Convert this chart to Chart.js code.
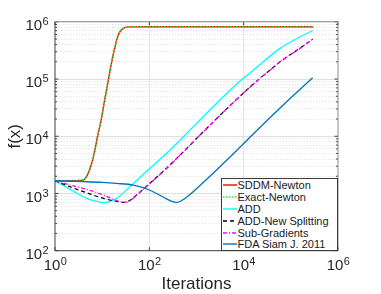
<!DOCTYPE html>
<html><head><meta charset="utf-8">
<script src="https://cdn.jsdelivr.net/npm/chart.js@4"></script>
<style>
html,body{margin:0;padding:0;background:#fff;}
#wrap{position:relative;width:381px;height:294px;}
canvas{display:block;}
#legend{position:absolute;left:221px;top:178px;width:117px;height:73px;box-sizing:border-box;border:1px solid #3a3a3a;background:#fff;font:11px "Liberation Sans",Arial,sans-serif;color:#1a1a1a;padding-top:0px;}
.row{height:11.9px;white-space:nowrap;display:flex;align-items:center;}
.row svg{margin-left:0.5px;margin-right:1px;flex:none;}
</style></head>
<body>
<div id="wrap"><canvas id="c" width="381" height="294"></canvas><div id="legend"></div></div>
<script>
// ---- data ----
const SERIES_NAMES = ['SDDM-Newton','Exact-Newton','ADD','ADD-New Splitting','Sub-Gradients','FDA Siam J. 2011'];

const newtonIter = [1, 2, 3, 4, 5, 6, 7, 8, 9.5, 11, 13.5, 17, 22, 30, 40, 60, 1000, 1e4, 1e5, 3e5];
const newtonF    = [1670, 1670, 1680, 1720, 2200, 3370, 5740, 10000, 19000, 38000, 96000, 2.6e5, 5.9e5, 7.9e5, 8.15e5, 8.2e5, 8.2e5, 8.2e5, 8.2e5, 8.2e5];

const addIter = [1, 2.08, 4.68, 8, 11.5, 15, 20.3, 45.7, 103, 274, 728, 1186, 3700, 8350, 16000, 59000, 156000, 290000];
const addF    = [1670, 1180, 822, 718, 690, 738, 822, 1500, 2750, 5740, 12800, 19200, 49000, 92000, 143000, 343000, 547000, 697000];

const addNewIter = [1, 2.08, 4.68, 10.6, 18.7, 28, 38, 54, 103, 233, 617, 1186, 8350, 22200, 36100, 59000, 156000, 290000];
const addNewF    = [1670, 1310, 1030, 822, 738, 700, 750, 945, 1510, 2780, 6100, 10500, 50000, 103000, 143000, 200000, 345000, 500000];

const subGradIter = [1, 2.08, 4.68, 10.6, 18.7, 25, 30.5, 38, 54, 103, 233, 617, 1186, 8350, 22200, 36100, 59000, 156000, 290000];
const subGradF    = [1670, 1405, 1180, 940, 769, 715, 700, 740, 940, 1500, 2750, 6100, 10500, 50000, 103000, 143000, 200000, 343000, 500000];

const fdaIter = [1, 4, 10, 20, 46, 100, 200, 300, 380, 470, 617, 1010, 1645, 5130, 21000, 69000, 290000];
const fdaF    = [1670, 1610, 1560, 1500, 1400, 1150, 860, 730, 700, 740, 860, 1220, 1766, 4340, 13700, 35200, 105000];

const X_TICKS = [1, 1e2, 1e4, 1e6];
const X_TICK_EXP = ['0', '2', '4', '6'];
const Y_TICKS = [1e2, 1e3, 1e4, 1e5, 1e6];
const Y_TICK_EXP = ['2', '3', '4', '5', '6'];
const TICK_BASE = '10';
const MINOR_MULTS = [2, 3, 4, 5, 6, 7, 8, 9];
const Y_MINOR = [];
[1e2, 1e3, 1e4, 1e5].forEach(d => MINOR_MULTS.forEach(m => Y_MINOR.push(d * m)));

const pts = (xs, ys) => xs.map((x, i) => ({x, y: ys[i]}));
const FONT = '"Liberation Sans", Arial, Helvetica, sans-serif';
const TXT = '#262626';
const BASE_SIZE = 15, EXP_SIZE = 11;
const X_PAD = 6, X_LOFF = -3, Y_PAD = 12.8, Y_LOFF = 4, EXP_RAISE = 6;

const styles = [
  {color:'#ff0000', dash:[], width:1.4},
  {color:'#33e633', dash:[1.5,1.5], width:1.4},
  {color:'#00ffff', dash:[], width:1.3},
  {color:'#000000', dash:[4,3], width:1.2},
  {color:'#ff00ff', dash:[4,2,1,2], width:1.3},
  {color:'#0072bd', dash:[], width:1.3}
];
const seriesData = [pts(newtonIter,newtonF), pts(newtonIter,newtonF), pts(addIter,addF), pts(addNewIter,addNewF), pts(subGradIter,subGradF), pts(fdaIter,fdaF)];

const datasets = SERIES_NAMES.map((name, i) => ({
  label: name,
  data: seriesData[i],
  borderColor: styles[i].color,
  borderDash: styles[i].dash,
  borderWidth: styles[i].width,
  pointRadius: 0,
  fill: false,
  cubicInterpolationMode: 'monotone',
  order: SERIES_NAMES.length - i
}));

const boxPlugin = {
  id: 'box',
  afterDatasetsDraw(chart) {
    const {ctx, chartArea: a, scales} = chart;
    ctx.save();
    ctx.lineWidth = 1;
    ctx.strokeStyle = '#404040';
    const ln = (x1,y1,x2,y2) => {ctx.beginPath(); ctx.moveTo(x1,y1); ctx.lineTo(x2,y2); ctx.stroke();};
    Y_TICKS.forEach(v => { const p = scales.y.getPixelForValue(v); ln(a.left,p,a.left+3.5,p); ln(a.right,p,a.right-3.5,p); });
    Y_MINOR.forEach(v => { const p = scales.y.getPixelForValue(v); ln(a.left,p,a.left+2,p); ln(a.right,p,a.right-2,p); });
    X_TICKS.forEach(v => { const p = scales.x.getPixelForValue(v); ln(p,a.bottom,p,a.bottom-3.5); ln(p,a.top,p,a.top+3.5); });
    ctx.strokeStyle = '#404040';
    ln(a.left, a.top, a.left, a.bottom); ln(a.left, a.bottom, a.right, a.bottom);
    ctx.strokeStyle = '#8c8c8c';
    ln(a.left, a.top, a.right, a.top); ln(a.right, a.top, a.right, a.bottom);
    ctx.restore();
  },
  afterDraw(chart) {
    // exponents of the "10^n" tick labels
    const {ctx, chartArea: a, scales} = chart;
    ctx.save();
    ctx.font = BASE_SIZE + 'px ' + FONT;
    const w10 = ctx.measureText(TICK_BASE).width;
    ctx.font = EXP_SIZE + 'px ' + FONT;
    ctx.fillStyle = TXT;
    ctx.textAlign = 'left';
    ctx.textBaseline = 'alphabetic';
    const xc = a.bottom + X_PAD + BASE_SIZE * 1.2 / 2;
    const xBase = xc + 0.3465 * BASE_SIZE;
    X_TICKS.forEach((v, i) => {
      const p = scales.x.getPixelForValue(v);
      ctx.fillText(X_TICK_EXP[i], p + X_LOFF + w10 / 2 + 0.3, xBase - EXP_RAISE);
    });
    Y_TICKS.forEach((v, i) => {
      const p = scales.y.getPixelForValue(v);
      const base = p + Y_LOFF + 0.3465 * BASE_SIZE;
      ctx.fillText(Y_TICK_EXP[i], scales.y.right - Y_PAD + 0.3, base - EXP_RAISE);
    });
    ctx.restore();
  }
};

new Chart(document.getElementById('c'), {
  type: 'line',
  data: {datasets},
  options: {
    responsive: false,
    animation: false,
    events: [],
    layout: {padding: {top: 21.7, right: 43, left: 0, bottom: 0}},
    plugins: {legend: {display: false}, tooltip: {enabled: false}},
    scales: {
      x: {
        type: 'logarithmic', min: 1, max: 1e6, position: 'bottom',
        afterBuildTicks: s => { s.ticks = X_TICKS.map(v => ({value: v})); },
        afterFit: s => { s.height = 43.3; },
        ticks: {autoSkip: false, maxRotation: 0, padding: X_PAD, labelOffset: X_LOFF, color: TXT,
                font: {family: FONT, size: BASE_SIZE, lineHeight: 1.2},
                callback: () => TICK_BASE},
        grid: {drawTicks: false, color: c => (c.tick && (c.tick.value === 1e2 || c.tick.value === 1e4)) ? '#e3e3e3' : 'rgba(0,0,0,0)'},
        border: {display: false},
        title: {display: true, text: 'Iterations', color: TXT, font: {family: FONT, size: 17, lineHeight: 1}, padding: {top: 0, bottom: 1}}
      },
      yMinor: {
        type: 'logarithmic', min: 100, max: 1e6, position: 'left',
        afterBuildTicks: s => { s.ticks = Y_MINOR.map(v => ({value: v})); },
        afterFit: s => { s.width = 0; },
        ticks: {display: false},
        grid: {drawTicks: false, color: '#e9e9e9'},
        border: {display: false, dash: [1.5, 1.5]}
      },
      y: {
        type: 'logarithmic', min: 100, max: 1e6, position: 'left',
        afterBuildTicks: s => { s.ticks = Y_TICKS.map(v => ({value: v})); },
        afterFit: s => { s.width = 55; },
        ticks: {autoSkip: false, padding: Y_PAD, labelOffset: Y_LOFF, color: TXT,
                font: {family: FONT, size: BASE_SIZE, lineHeight: 1.2},
                callback: () => TICK_BASE},
        grid: {drawTicks: false, color: '#dedede'},
        border: {display: false},
        title: {display: true, text: 'f(x)', color: TXT, font: {family: FONT, size: 17, lineHeight: 1}, padding: {top: 6.5, bottom: 0}}
      }
    }
  },
  plugins: [boxPlugin]
});

// HTML legend built from the datasets
const leg = document.getElementById('legend');
datasets.forEach((d, i) => {
  const row = document.createElement('div');
  row.className = 'row';
  const ns = 'http://www.w3.org/2000/svg';
  const svg = document.createElementNS(ns, 'svg');
  svg.setAttribute('width', '14'); svg.setAttribute('height', '4');
  const l = document.createElementNS(ns, 'line');
  l.setAttribute('x1', '0'); l.setAttribute('x2', '14'); l.setAttribute('y1', '2'); l.setAttribute('y2', '2');
  l.setAttribute('stroke', styles[i].color); l.setAttribute('stroke-width', '1.4');
  if (styles[i].dash.length) l.setAttribute('stroke-dasharray', styles[i].dash.join(' '));
  svg.appendChild(l);
  const span = document.createElement('span');
  span.textContent = d.label;
  row.appendChild(svg); row.appendChild(span);
  leg.appendChild(row);
});
</script>
</body></html>
